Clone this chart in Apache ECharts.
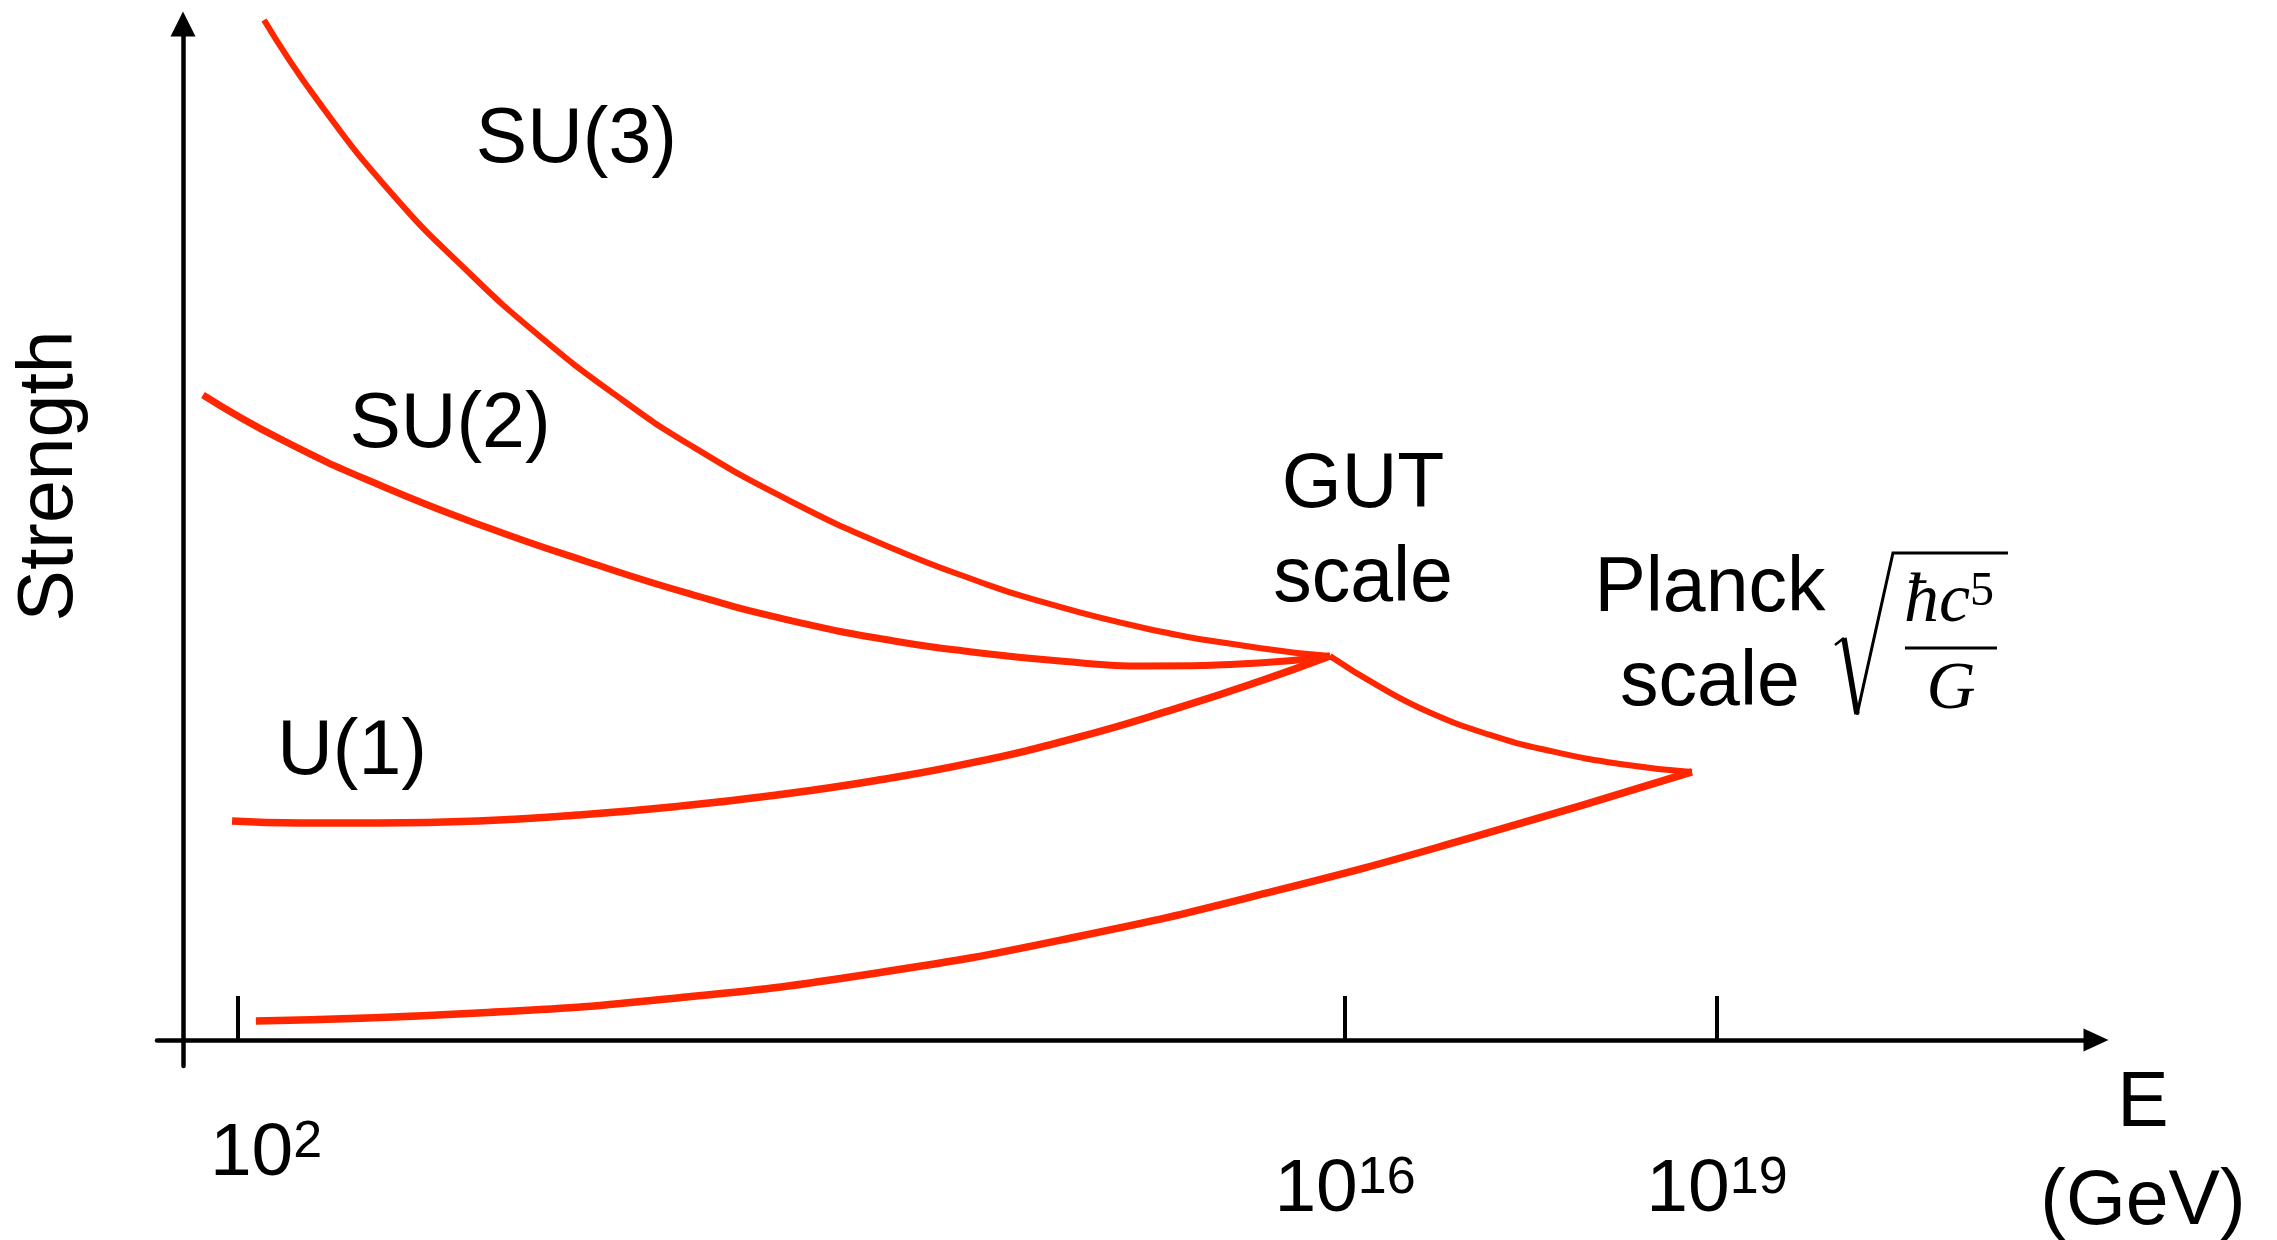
<!DOCTYPE html>
<html>
<head>
<meta charset="utf-8">
<title>Running couplings: unification at the GUT and Planck scales</title>
<script src="https://cdn.jsdelivr.net/npm/echarts@6/dist/echarts.min.js"></script>
<style>
  html, body { margin: 0; padding: 0; background: #ffffff; }
  #chart { width: 2277px; height: 1240px; }
</style>
</head>
<body>
<div id="chart"></div>
<script>
// Schematic coordinates: x = position along the energy axis (0 at the strength axis),
// y = interaction strength (0 at the energy axis). Each point is [energy, strength].
const su3Coupling = [
  [4.18, 97.89], [6.96, 90.12], [10.88, 81.00], [14.60, 73.90], [18.26, 67.75],
  [22.23, 62.00], [26.15, 57.10], [31.41, 51.63], [36.67, 47.12], [41.10, 43.95],
  [43.68, 42.37], [49.56, 39.54], [55.49, 37.62], [59.15, 36.85]
];
const su2Coupling = [
  [1.03, 61.90], [5.11, 57.58], [10.37, 53.07], [15.63, 49.23], [20.89, 45.87],
  [26.15, 42.80], [31.41, 40.21], [36.67, 38.29], [40.69, 37.24], [45.23, 36.37],
  [49.56, 35.89], [55.49, 36.18], [59.15, 36.85]
];
const u1Coupling = [
  [2.53, 21.02], [6.03, 20.83], [10.11, 20.83], [15.21, 21.02], [20.37, 21.59],
  [25.48, 22.41], [30.63, 23.51], [35.74, 24.90], [40.90, 26.68], [46.05, 28.98],
  [51.16, 31.77], [55.49, 34.40], [59.15, 36.85]
];
const unifiedCoupling = [
  [59.15, 36.85], [61.73, 33.88], [64.36, 31.38], [67.41, 29.27], [70.29, 27.83],
  [74.11, 26.49], [77.82, 25.72]
];
const gravityCoupling = [
  [3.76, 1.82], [15.21, 2.59], [25.48, 4.03], [35.79, 6.43], [46.05, 9.88],
  [56.32, 14.30], [66.58, 19.48], [77.82, 25.72]
];

// Energy ticks and their powers of ten (GeV)
const energyTicks = [2.84, 59.93, 79.11];
const energyExponents = ['2', '16', '19'];

// Text annotations, anchored in chart coordinates
const curveLabels = [
  { text: 'SU(3)', at: [20.29, 86.25] },
  { text: 'SU(2)', at: [13.77, 58.93] },
  { text: 'U(1)', at: [8.72, 27.54] },
  { text: 'GUT\nscale', at: [60.86, 48.66] },
  { text: 'Planck\nscale', at: [78.75, 38.68] }
];
const planckFormulaAt = [91.18, 37.62];
const strengthTitleAt = [-6.81, 54.13];
const energyTitleAt = [101.08, -10.94];

const RED = '#ff2600';
const SANS = '"Liberation Sans", Arial, Helvetica, sans-serif';
const SERIF = '"Liberation Serif", "Times New Roman", serif';

const X_MIN = -1.34, X_MAX = 98.66;
const Y_MIN = -2.5, Y_MAX = 97.5;

function tickLabel(value) {
  let best = 0;
  energyTicks.forEach((t, i) => {
    if (Math.abs(t - value) < Math.abs(energyTicks[best] - value)) best = i;
  });
  return '{b|10}{s|' + energyExponents[best] + '}';
}

const tickRich = {
  b: { fontFamily: SANS, fontSize: 75, lineHeight: 75, color: '#000', verticalAlign: 'middle' },
  s: { fontFamily: SANS, fontSize: 52, lineHeight: 52, color: '#000', verticalAlign: 'top' }
};

function curve(name, data, width) {
  return {
    name: name,
    type: 'line',
    xAxisIndex: 0,
    yAxisIndex: 0,
    data: data,
    smooth: 0.5,
    symbol: 'none',
    showSymbol: false,
    clip: false,
    silent: true,
    lineStyle: { color: RED, width: width, cap: 'butt', join: 'miter' }
  };
}

const chart = echarts.init(document.getElementById('chart'), null, { renderer: 'canvas' });

chart.setOption({
  backgroundColor: '#ffffff',
  animation: false,
  grid: { left: 157, right: 181, top: 24, bottom: 174, containLabel: false, outerBoundsMode: 'none' },
  xAxis: [
    {
      type: 'value',
      min: X_MIN,
      max: X_MAX,
      position: 'bottom',
      axisLine: {
        show: true,
        onZero: true,
        symbol: ['none', 'triangle'],
        symbolSize: [23, 25],
        lineStyle: { color: '#000', width: 4.5 }
      },
      axisTick: {
        show: true,
        inside: true,
        length: 44,
        customValues: energyTicks,
        lineStyle: { color: '#000', width: 4 }
      },
      axisLabel: {
        show: true,
        customValues: energyTicks.slice(1),
        margin: 87,
        formatter: tickLabel,
        rich: tickRich
      },
      splitLine: { show: false }
    },
    {
      // carries the lowest energy label, which sits higher than the others
      type: 'value',
      min: X_MIN,
      max: X_MAX,
      position: 'bottom',
      axisLine: { show: false, onZero: false },
      axisTick: { show: false },
      axisLabel: {
        show: true,
        customValues: energyTicks.slice(0, 1),
        margin: 51,
        padding: [0, 0, 0, 56],
        formatter: tickLabel,
        rich: tickRich
      },
      splitLine: { show: false }
    }
  ],
  yAxis: {
    type: 'value',
    min: Y_MIN,
    max: Y_MAX,
    axisLine: {
      show: true,
      onZero: true,
      symbol: ['none', 'triangle'],
      symbolSize: [25, 25],
      lineStyle: { color: '#000', width: 4.5 }
    },
    axisTick: { show: false },
    axisLabel: { show: false },
    splitLine: { show: false }
  },
  series: [
    curve('SU(3)', su3Coupling, 6),
    curve('SU(2)', su2Coupling, 7),
    curve('U(1)', u1Coupling, 7.5),
    curve('Unified', unifiedCoupling, 6),
    curve('Gravity', gravityCoupling, 7.5)
  ]
});

const toPx = (pt) => chart.convertToPixel({ xAxisIndex: 0, yAxisIndex: 0 }, pt);

const graphics = [];

curveLabels.forEach((lab) => {
  const p = toPx(lab.at);
  graphics.push({
    type: 'text',
    x: p[0],
    y: p[1],
    silent: true,
    style: {
      text: lab.text,
      fontFamily: SANS,
      fontSize: 77,
      lineHeight: 94,
      fill: '#000',
      align: 'center',
      verticalAlign: 'middle'
    }
  });
});

// Strength axis title
(function () {
  const p = toPx(strengthTitleAt);
  graphics.push({
    type: 'text',
    x: p[0],
    y: p[1],
    rotation: Math.PI / 2,
    silent: true,
    style: {
      text: 'Strength',
      fontFamily: SANS,
      fontSize: 77,
      fill: '#000',
      align: 'center',
      verticalAlign: 'middle'
    }
  });
})();

// Energy axis title
(function () {
  const p = toPx(energyTitleAt);
  graphics.push({
    type: 'text',
    x: p[0],
    y: p[1],
    silent: true,
    style: {
      text: 'E\n(GeV)',
      fontFamily: SANS,
      fontSize: 77,
      lineHeight: 98,
      fill: '#000',
      align: 'center',
      verticalAlign: 'middle'
    }
  });
})();

// Planck energy: square root of hbar c^5 over G
(function () {
  const p = toPx(planckFormulaAt);
  const stroke = (pts, w) => ({
    type: 'polyline',
    shape: { points: pts },
    style: { stroke: '#000', lineWidth: w, fill: null, lineJoin: 'miter', lineCap: 'butt' }
  });
  graphics.push({
    type: 'group',
    x: p[0],
    y: p[1],
    silent: true,
    children: [
      stroke([[-116, -3], [-107, -10]], 2.5),
      stroke([[-107, -10], [-94, 66]], 5.5),
      stroke([[-94, 67], [-58, -95], [57, -95]], 3),
      stroke([[-46, 0], [46, 0]], 3),
      {
        type: 'text', x: -47, y: -45,
        style: { text: '\u0127c', fontFamily: SERIF, fontStyle: 'italic', fontSize: 70, fill: '#000', align: 'left', verticalAlign: 'middle' }
      },
      {
        type: 'text', x: 19, y: -56,
        style: { text: '5', fontFamily: SERIF, fontSize: 48, fill: '#000', align: 'left', verticalAlign: 'middle' }
      },
      {
        type: 'text', x: 0, y: 42,
        style: { text: 'G', fontFamily: SERIF, fontStyle: 'italic', fontSize: 68, fill: '#000', align: 'center', verticalAlign: 'middle' }
      }
    ]
  });
})();

chart.setOption({ graphic: graphics });
</script>
</body>
</html>
